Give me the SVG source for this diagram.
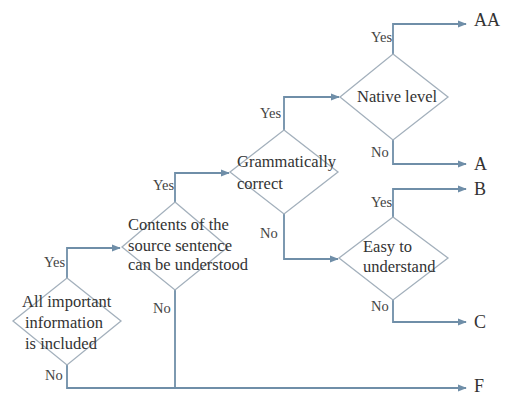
<svg xmlns="http://www.w3.org/2000/svg" width="508" height="396" viewBox="0 0 508 396">
<style>
.d{fill:none;stroke:#a3b0bc;stroke-width:1.3}
.c{fill:none;stroke:#6f8ea8;stroke-width:1.8}
text{font-family:"Liberation Serif","Times New Roman","DejaVu Serif",serif}
.t{font-size:16.5px;fill:#333}
.l{font-size:14.5px;fill:#444}
.r{font-size:18px;fill:#333}
</style>
<defs>
<marker id="ah" viewBox="0 0 10 10" refX="9" refY="5" markerWidth="9" markerHeight="9" markerUnits="userSpaceOnUse" orient="auto">
<path d="M0,1 L10,5 L0,9 z" fill="#6f8ea8"/>
</marker>
</defs>
<rect width="508" height="396" fill="#fff"/>
<g id="connectors">
<path class="c" d="M67,278 V248 H120" marker-end="url(#ah)"/>
<path class="c" d="M67,365 V388 H466" marker-end="url(#ah)"/>
<path class="c" d="M175,202 V173 H229" marker-end="url(#ah)"/>
<path class="c" d="M175,290 V388"/>
<path class="c" d="M284,130 V97 H339" marker-end="url(#ah)"/>
<path class="c" d="M284,214 V259 H338" marker-end="url(#ah)"/>
<path class="c" d="M393,54 V24 H466" marker-end="url(#ah)"/>
<path class="c" d="M393,140 V164 H466" marker-end="url(#ah)"/>
<path class="c" d="M393,217 V189 H466" marker-end="url(#ah)"/>
<path class="c" d="M393,300 V322 H466" marker-end="url(#ah)"/>
<text class="l" x="44" y="267">Yes</text>
<text class="l" x="45" y="380">No</text>
<text class="l" x="153" y="190">Yes</text>
<text class="l" x="153" y="313">No</text>
<text class="l" x="260" y="118">Yes</text>
<text class="l" x="260" y="238">No</text>
<text class="l" x="371" y="42">Yes</text>
<text class="l" x="371" y="157">No</text>
<text class="l" x="371" y="207">Yes</text>
<text class="l" x="371" y="311">No</text>
</g>
<g id="n1">
<path class="d" d="M67,278 L121,321 L67,365 L13,321 Z"/>
<text class="t" x="22" y="307">All important</text>
<text class="t" x="25" y="328">information</text>
<text class="t" x="25" y="349">is included</text>
</g>
<g id="n2">
<path class="d" d="M175,202 L228,247 L175,290 L122,247 Z"/>
<text class="t" x="128" y="230">Contents of the</text>
<text class="t" x="128" y="251">source sentence</text>
<text class="t" x="128" y="270">can be understood</text>
</g>
<g id="n3">
<path class="d" d="M284,130 L338,172 L284,214 L230,172 Z"/>
<text class="t" x="237" y="167">Grammatically</text>
<text class="t" x="237" y="189">correct</text>
</g>
<g id="n4">
<path class="d" d="M393,54 L448,97 L393,140 L340,97 Z"/>
<text class="t" x="357" y="102">Native level</text>
</g>
<g id="n5">
<path class="d" d="M393,217 L448,258 L393,300 L339,258 Z"/>
<text class="t" x="363" y="252">Easy to</text>
<text class="t" x="363" y="272">understand</text>
</g>
<g id="outcomes">
<text class="r" x="474" y="26">AA</text>
<text class="r" x="474" y="170">A</text>
<text class="r" x="474" y="195">B</text>
<text class="r" x="474" y="328">C</text>
<text class="r" x="474" y="392">F</text>
</g>
</svg>
